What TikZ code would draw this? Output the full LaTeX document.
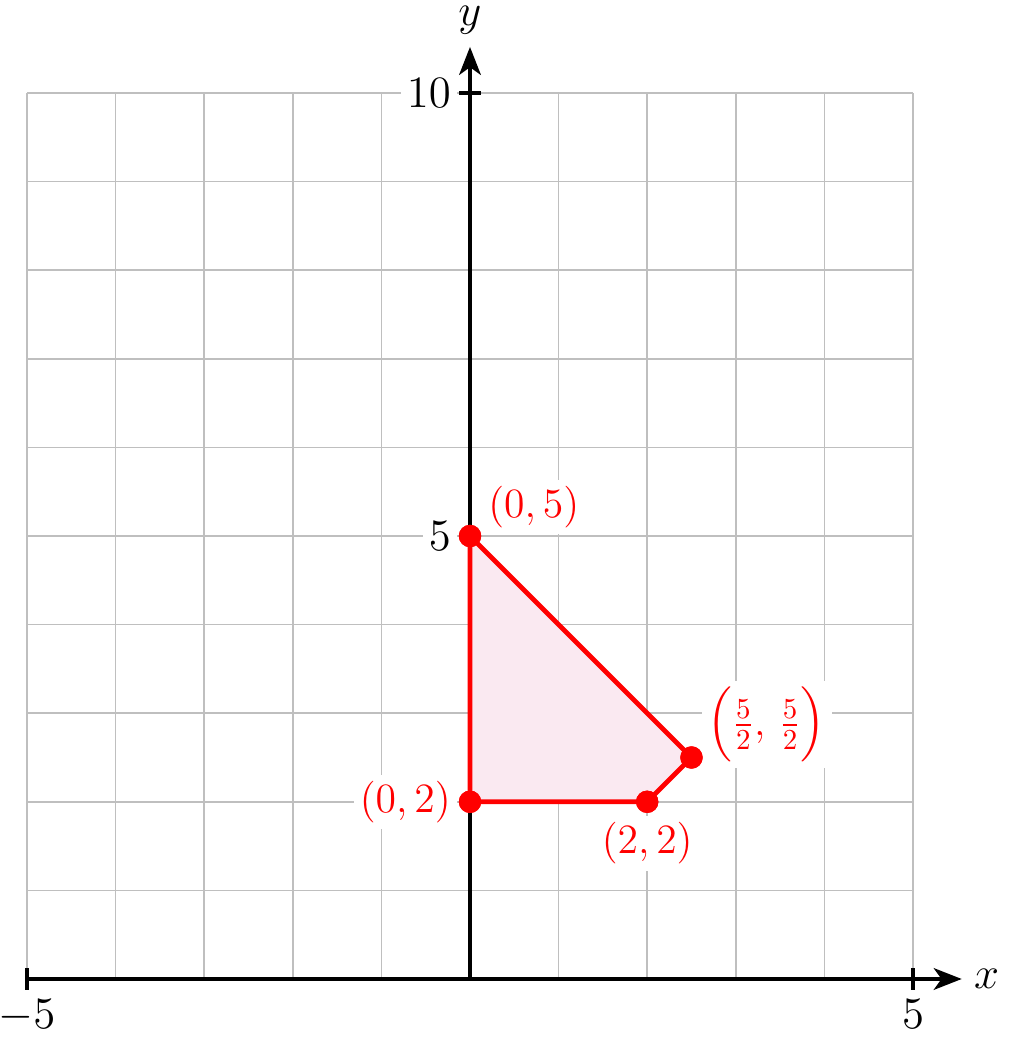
\documentclass[tikz,border=0pt]{standalone}
\usepackage{graphicx}
\usepackage{amsmath}
\usetikzlibrary{arrows.meta}
\definecolor{regionfill}{RGB}{250,233,241}
\newcommand{\ptlbl}[1]{\scalebox{0.93}{#1}}
\begin{document}
\begin{tikzpicture}[
  gridline/.style={gray!50, line width=0.5pt},
  axisline/.style={black, line width=1pt, -{Stealth[length=9pt,width=7pt,inset=2.5pt]}},
  tickmark/.style={black, line width=1pt},
  ticklabel/.style={font=\fontsize{14}{17}\selectfont, fill=white, inner sep=2pt},
  axislabel/.style={font=\fontsize{14}{17}\selectfont},
  ptlabel/.style={font=\fontsize{14}{17}\selectfont, text=red, fill=white, inner sep=2pt},
  edge/.style={red, line width=1.5pt},
  dot/.style={circle, fill=red, inner sep=0pt, minimum size=7.2pt}
]
\useasboundingbox (-5.305,-0.666) rectangle (6.299,11.05);
\draw[gridline] (-5,0) grid (5,10);
% region
\fill[regionfill] (0,5) -- (2.5,2.5) -- (2,2) -- (0,2) -- cycle;
% axes
\coordinate (xs) at (-5,0);
\coordinate (xe) at (5.55,0);
\coordinate (ys) at (0,0);
\coordinate (ye) at (0,10.52);
\draw[axisline] (xs) -- (xe);
\draw[axisline] (ys) -- (ye);
\node[axislabel] (xl) at (5.83,0) {$x$};
\node[axislabel] (yl) at (0,10.82) {$y$};
% ticks
\draw[tickmark] (-5,-0.12) -- (-5,0.12);
\draw[tickmark] (5,-0.12) -- (5,0.12);
\draw[tickmark] (-0.12,10) -- (0.12,10);
\draw[tickmark] (-0.12,5) -- (0.12,5);
\node[ticklabel, anchor=north] (tm5) at (-5,-0.16) {$-5$};
\node[ticklabel, anchor=north] (tp5) at (5,-0.16) {$5$};
\node[ticklabel, anchor=east] (t10) at (-0.14,10) {$10$};
\node[ticklabel, anchor=east] (t5) at (-0.14,5) {$5$};
% labels
\node[ptlabel] (la) at (0.72,5.33) {\ptlbl{$(0,5)$}};
\node[ptlabel] (lb) at (3.35,2.87) {\ptlbl{$\Bigl(\frac{5}{2},\,\frac{5}{2}\Bigr)$}};
\node[ptlabel] (lc) at (2,1.53) {\ptlbl{$(2,2)$}};
\node[ptlabel] (ld) at (-0.73,2) {\ptlbl{$(0,2)$}};
% points
\node[dot] (a) at (0,5) {};
\node[dot] (b) at (2.5,2.5) {};
\node[dot] (c) at (2,2) {};
\node[dot] (d) at (0,2) {};
\draw[edge] (a.center) -- (b.center) -- (c.center) -- (d.center) -- cycle;
\node[dot] at (0,5) {};
\node[dot] at (2.5,2.5) {};
\node[dot] at (2,2) {};
\node[dot] at (0,2) {};
\end{tikzpicture}
\end{document}
